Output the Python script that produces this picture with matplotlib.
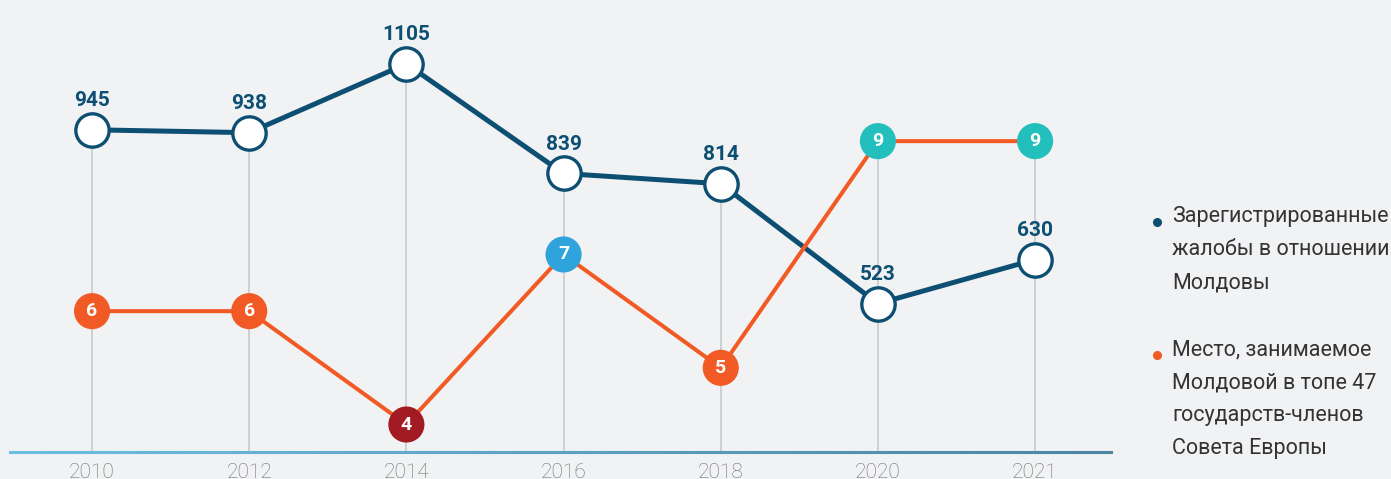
import numpy as np
import matplotlib
matplotlib.use("Agg")
import matplotlib.pyplot as plt
from matplotlib.collections import LineCollection
from matplotlib.lines import Line2D

# data
years = ["2010", "2012", "2014", "2016", "2018", "2020", "2021"]
complaints = [945, 938, 1105, 839, 814, 523, 630]
ranks = [6, 6, 4, 7, 5, 9, 9]
rank_colors = ["#f15a24", "#f15a24", "#a31b22", "#2ea3dc", "#f15a24", "#22bfbc", "#22bfbc"]
legend_labels = ["Зарегистрированные\nжалобы в отношении\nМолдовы",
                 "Место, занимаемое\nМолдовой в топе 47\nгосударств-членов\nСовета Европы"]

BG = "#f1f2f4"
NAVY = "#0d4f73"
ORANGE = "#f15a24"
W, H = 1391, 479

plt.rcParams['font.family'] = ['Roboto', 'DejaVu Sans']

fig = plt.figure(figsize=(W / 100, H / 100), dpi=100, facecolor=BG)
ax = fig.add_axes([10 / W, (H - 452) / H, 1101 / W, 452 / H])
ax.set_facecolor(BG)
ax2 = ax.twinx()
ax2.set_facecolor("none")

x = np.arange(len(years))
ax.set_xlim(-0.522, 6.483)
ax.set_ylim(163, 1260)
ax2.set_ylim(3.515, 11.49)

for a in (ax, ax2):
    for s in a.spines.values():
        s.set_visible(False)
    a.set_yticks([])

# vertical guide lines from the top marker down to the axis
for i in range(len(years)):
    top_px = min(64 + (1105 - complaints[i]) * 0.4124, 452 - (ranks[i] - 3.515) * 56.68)
    top_v = 1105 - (top_px - 64) / 0.4124
    ax.plot([x[i], x[i]], [163, top_v], color="#c9cacd", lw=1.2, zorder=1)

# baseline with gradient
xs = np.linspace(-0.522, 6.483, 60)
segs = [[(xs[k], 163), (xs[k + 1], 163)] for k in range(len(xs) - 1)]
cmap = matplotlib.colors.LinearSegmentedColormap.from_list("ax", ["#6cbde2", "#4a86a2"])
lc = LineCollection(segs, colors=cmap(np.linspace(0, 1, len(segs))), lw=2.2,
                    capstyle="projecting", clip_on=False, zorder=2)
ax.add_collection(lc)

# complaints line
ax.plot(x, complaints, color=NAVY, lw=3.6, zorder=3, solid_capstyle="round")
ax.plot(x, complaints, ls="none", marker="o", ms=24, mfc="white", mec=NAVY, mew=2.4, zorder=4)
for i, v in enumerate(complaints):
    ax.annotate(str(v), (x[i], v), xytext=(0, 21), textcoords="offset points",
                ha="center", va="center", fontsize=15, fontweight="bold", color=NAVY)

# rank line
ax2.plot(x, ranks, color=ORANGE, lw=2.9, zorder=5)
ax2.scatter(x, ranks, s=26 ** 2, c=rank_colors, zorder=6, linewidths=0)
for i, r in enumerate(ranks):
    ax2.text(x[i], r, str(r), ha="center", va="center", fontsize=14,
             fontweight="bold", color="white", zorder=7)

ax.set_xticks(x)
ax.set_xticklabels(years, fontsize=15, color="#707070", fontweight="light")
ax.tick_params(axis="x", length=0, pad=8)
ax2.tick_params(axis="x", length=0)

# legend
for (ly, col, lab) in [(222, NAVY, legend_labels[0]), (355, ORANGE, legend_labels[1])]:
    fig.add_artist(Line2D([1157 / W], [1 - ly / H], marker="o", ms=5.5, color=col,
                          mec=col, transform=fig.transFigure))
    fig.text(1172 / W, 1 - (ly - 16) / H, lab, fontsize=15.5, color="#333333",
             va="top", ha="left", linespacing=1.75)

fig.savefig("out.png", dpi=100, facecolor=BG)
